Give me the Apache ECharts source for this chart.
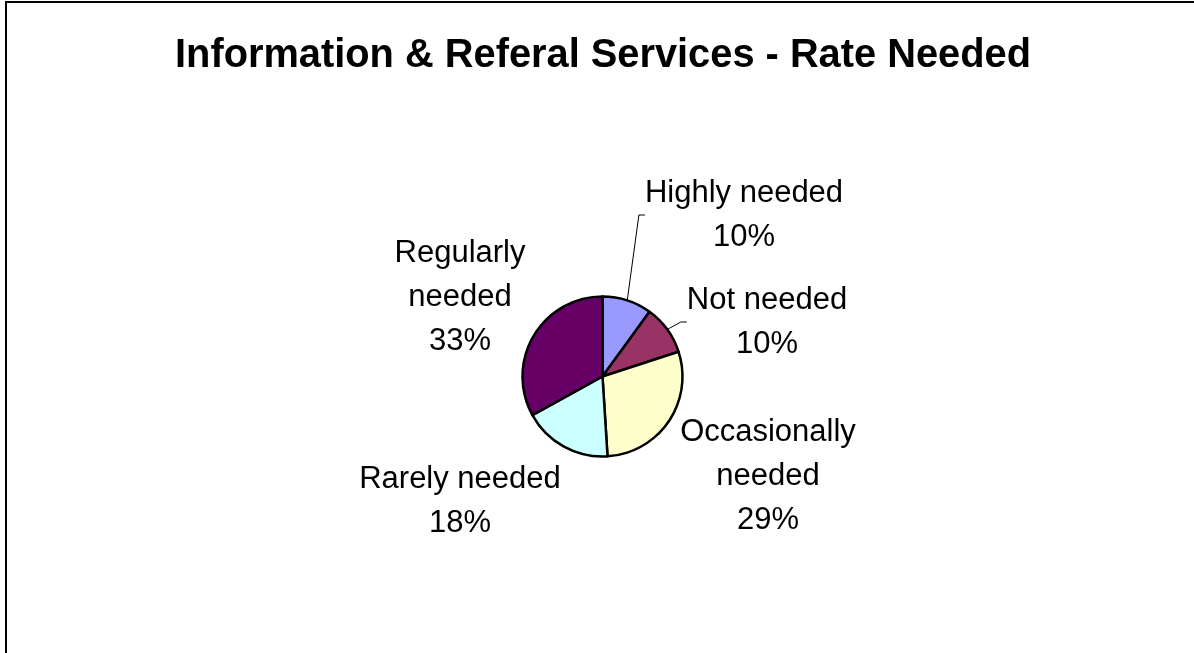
<!DOCTYPE html>
<html>
<head>
<meta charset="utf-8">
<script src="https://cdn.jsdelivr.net/npm/echarts@6/dist/echarts.min.js"></script>
<style>
  html, body { margin: 0; padding: 0; background: #fff; }
  #chart { width: 1194px; height: 653px; }
</style>
</head>
<body>
<div id="chart"></div>
<script>
// Survey answers, clockwise from twelve o'clock
const categories = ['Highly needed', 'Not needed', 'Occasionally needed', 'Rarely needed', 'Regularly needed'];
const shares = [10, 10, 29, 18, 33];
const sliceColors = ['#9999FF', '#993366', '#FFFFCC', '#CCFFFF', '#660066'];
// how each category name wraps in its label
const wrappedNames = ['Highly needed', 'Not needed', 'Occasionally\nneeded', 'Rarely needed', 'Regularly\nneeded'];
// which labels get a leader line
const showLeader = [true, true, false, false, false];

// label block centres (pixels)
const labelSpots = [[744, 215], [767, 322], [768, 476], [460, 501], [460, 297]];

const chart = echarts.init(document.getElementById('chart'), null, { renderer: 'canvas' });

const option = {
  backgroundColor: '#ffffff',
  animation: false,
  title: {
    text: 'Information & Referal Services - Rate Needed',
    left: 603,
    top: 56,
    padding: 0,
    textAlign: 'center',
    textVerticalAlign: 'middle',
    textStyle: {
      fontFamily: 'Liberation Sans, Arial, sans-serif',
      fontWeight: 'bold',
      fontSize: 39.8,
      color: '#000'
    }
  },
  graphic: [{
    type: 'rect',
    shape: { x: 6, y: 2, width: 1400, height: 900 },
    style: { fill: 'none', stroke: '#000', lineWidth: 2 },
    silent: true
  }],
  series: [{
    type: 'pie',
    center: [602.5, 376.5],
    radius: 80,
    startAngle: 90,
    clockwise: true,
    avoidLabelOverlap: false,
    itemStyle: { borderColor: '#000', borderWidth: 2.5 },
    label: {
      show: true,
      position: 'outside',
      fontFamily: 'Liberation Sans, Arial, sans-serif',
      fontSize: 31,
      lineHeight: 44,
      color: '#000',
      align: 'center',
      formatter: p => wrappedNames[p.dataIndex] + '\n' + p.value + '%'
    },
    labelLine: {
      show: true,
      length: 10,
      length2: 6,
      lineStyle: { color: '#000', width: 1 }
    },
    labelLayout: function (params) {
      const spot = labelSpots[params.dataIndex];
      return { x: spot[0], y: spot[1], align: 'center', verticalAlign: 'middle' };
    },
    data: categories.map((name, i) => ({
      name: name,
      value: shares[i],
      itemStyle: { color: sliceColors[i] },
      labelLine: { show: showLeader[i] }
    }))
  }]
};

chart.setOption(option);
</script>
</body>
</html>
